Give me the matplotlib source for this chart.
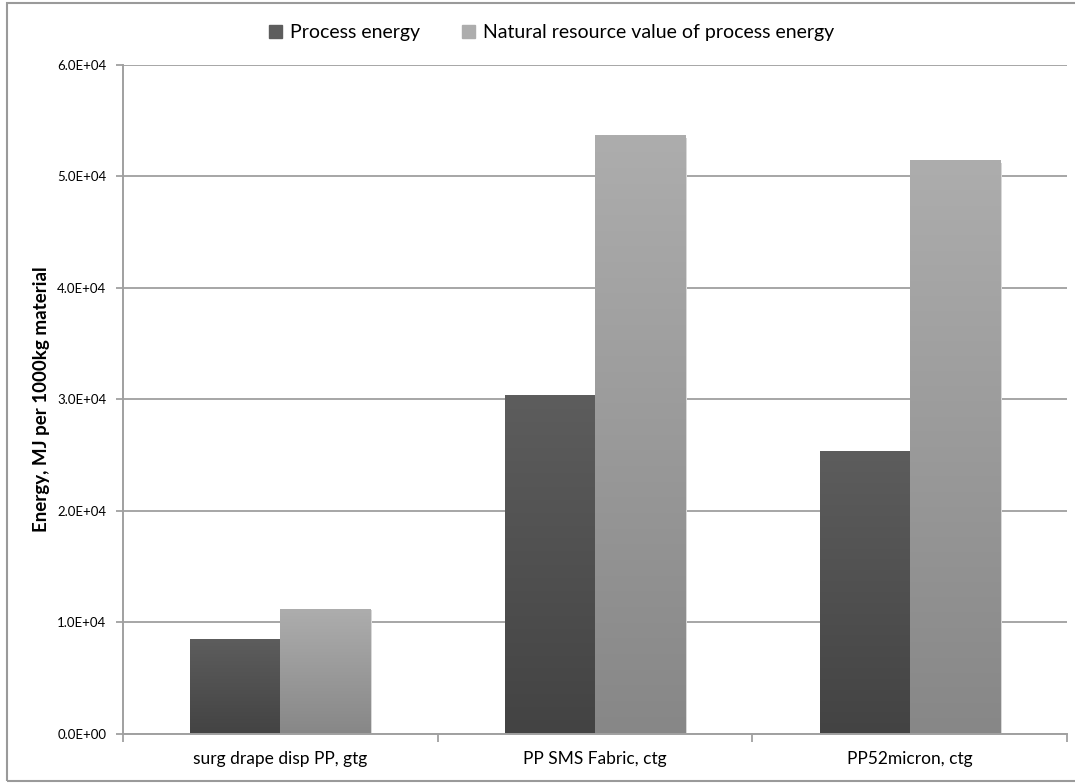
import matplotlib
matplotlib.use("Agg")
import matplotlib.pyplot as plt
import numpy as np
from matplotlib.patches import Rectangle
from matplotlib.ticker import FuncFormatter, FixedLocator

plt.rcParams['font.family'] = ['Lato', 'DejaVu Sans']

categories = ['surg drape disp PP, gtg', 'PP SMS Fabric, ctg', 'PP52micron, ctg']
process_energy = [8500, 30400, 25400]
natural_resource = [11200, 53700, 51500]
series_names = ['Process energy', 'Natural resource value of process energy']

# top / bottom shade of each series' gradient fill
dark_shades = ('#5d5d5d', '#434343')
light_shades = ('#adadad', '#878787')

fig = plt.figure(figsize=(10.75, 7.84), dpi=100)
ax = fig.add_axes([0.1144, 0.0638, 0.8782, 0.8533])

x = np.arange(len(categories))
w = 0.286


def gradient_bars(xs, heights, shades, label):
    bars = ax.bar(xs, heights, w, color=shades[0], label=label, zorder=2)
    cmap = matplotlib.colors.LinearSegmentedColormap.from_list('g', [shades[1], shades[0]])
    grad = np.linspace(0, 1, 256).reshape(-1, 1)
    for b in bars:
        bx, by = b.get_x(), b.get_y()
        bw, bh = b.get_width(), b.get_height()
        # soft shadow to the right
        ax.add_patch(Rectangle((bx + bw, by), 0.006, bh * 0.995, color='#d8d8d8', zorder=1.5, lw=0))
        im = ax.imshow(grad, cmap=cmap, origin='lower', aspect='auto',
                       extent=[bx, bx + bw, by, by + bh], zorder=2.1)
        im.set_clip_path(b)
    return bars


gradient_bars(x - w / 2, process_energy, dark_shades, series_names[0])
gradient_bars(x + w / 2, natural_resource, light_shades, series_names[1])

ax.set_xlim(-0.5, 2.5)
ax.set_ylim(0, 60000)
ax.set_yticks(np.arange(0, 60001, 10000))
ax.yaxis.set_major_formatter(FuncFormatter(lambda v, p: f"{v:.1E}"))
ax.grid(axis='y', color='#a6a6a6', linewidth=1.4, zorder=0)
ax.set_axisbelow(True)

ax.set_xticks(x)
ax.set_xticklabels(categories, fontsize=12.5)
ax.xaxis.set_minor_locator(FixedLocator([-0.5, 0.5, 1.5, 2.5]))
ax.tick_params(axis='x', which='major', length=0, pad=12)
ax.tick_params(axis='x', which='minor', length=6, width=1.3, color='#a0a0a0')
ax.tick_params(axis='y', length=5, width=1.3, color='#a0a0a0', labelsize=9.5, pad=7)

for s in ['top', 'right']:
    ax.spines[s].set_visible(False)
for s in ['left', 'bottom']:
    ax.spines[s].set_color('#a0a0a0')
    ax.spines[s].set_linewidth(1.4)

ax.set_ylabel('Energy, MJ per 1000kg material', fontsize=13.5, fontweight='bold', labelpad=5)

handles = [Rectangle((0, 0), 1, 1, color=dark_shades[0]), Rectangle((0, 0), 1, 1, color=light_shades[0])]
fig.legend(handles, series_names, loc='center', bbox_to_anchor=(0.513, 0.958), ncol=2,
           frameon=False, fontsize=14, handlelength=0.65, handleheight=0.65,
           handletextpad=0.4, columnspacing=2.2)

# chart frame
fig.add_artist(Rectangle((7 / 1075, 3 / 784), 1.2, 778 / 784, transform=fig.transFigure,
                         fill=False, edgecolor='#9a9a9a', linewidth=1.5))

fig.savefig('out.png', dpi=100)
